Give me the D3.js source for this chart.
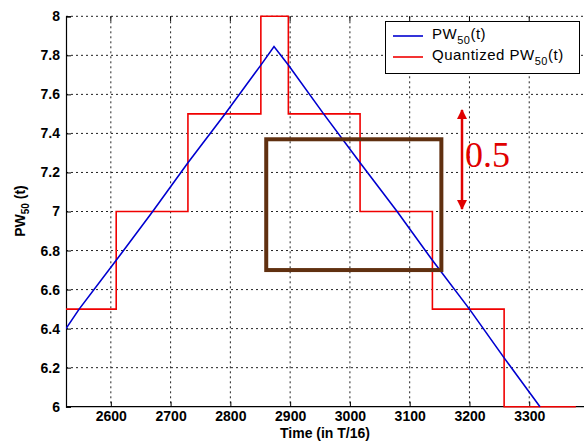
<!DOCTYPE html>
<html>
<head>
  <meta charset="UTF-8">
  <title>PW50 quantized</title>
  <script src="https://d3js.org/d3.v7.min.js"></script>
  <style>
    body { margin: 0; background: #fff; }
    svg { display: block; }
  </style>
</head>
<body>
  <svg width="584" height="443"></svg>

  <script>
    // PW50(t) (time in T/16, value)
    const pwTime  = [2525, 2547, 2609, 2670, 2729, 2791, 2851, 2873, 2897, 2956, 3017, 3079, 3138, 3200, 3258, 3318];
    const pwValue = [6.40, 6.50, 6.75, 7.00, 7.25, 7.50, 7.75, 7.845, 7.75, 7.50, 7.25, 7.00, 6.75, 6.50, 6.25, 6.00];

    // quantized steps: start of each step and its level
    const qStart = [2525, 2609, 2729, 2851, 2897, 3017, 3138, 3258];
    const qLevel = [6.5, 7.0, 7.5, 8.0, 7.5, 7.0, 6.5, 6.0];
    const qEnd = 3378;

    const xTicks = [2600, 2700, 2800, 2900, 3000, 3100, 3200, 3300];
    const yTicks = [6, 6.2, 6.4, 6.6, 6.8, 7, 7.2, 7.4, 7.6, 7.8, 8];

    // highlighted window
    const boxT = [2860, 3153];
    const boxV = [6.7, 7.37];

    const svg = d3.select("svg");
    const pLeft = 66, pTop = 16.3, pBottom = 406.7;

    const x = d3.scaleLinear().domain([2525, 3400]).range([pLeft, 589]);
    const y = d3.scaleLinear().domain([6, 8]).range([pBottom, pTop]);

    svg.append("defs").append("clipPath").attr("id", "plot")
      .append("rect")
      .attr("x", pLeft).attr("y", pTop - 2)
      .attr("width", 584 - pLeft).attr("height", pBottom - pTop + 4);

    // grid
    const grid = svg.append("g")
      .attr("stroke", "#222")
      .attr("stroke-width", 1)
      .attr("stroke-dasharray", "2,3");
    grid.selectAll("line.v")
      .data(xTicks)
      .join("line")
      .attr("class", "v")
      .attr("x1", d => x(d)).attr("x2", d => x(d))
      .attr("y1", pTop).attr("y2", pBottom);
    grid.selectAll("line.h")
      .data(yTicks.filter(d => d > 6))
      .join("line")
      .attr("class", "h")
      .attr("x1", pLeft).attr("x2", 584)
      .attr("y1", d => y(d)).attr("y2", d => y(d));

    // axes
    const xAxis = d3.axisBottom(x).tickValues(xTicks).tickSize(-5).tickPadding(4)
      .tickFormat(d3.format("d"));
    const gx = svg.append("g").attr("transform", `translate(0,${pBottom})`).call(xAxis);
    const yAxis = d3.axisLeft(y).tickValues(yTicks).tickSize(-5).tickPadding(6)
      .tickFormat(d3.format("~g"));
    const gy = svg.append("g").attr("transform", `translate(${pLeft},0)`).call(yAxis);
    [gx, gy].forEach(g => {
      g.select(".domain").attr("stroke", "#000").attr("stroke-width", 1.2);
      g.selectAll(".tick line").attr("stroke", "#000");
      g.selectAll("text")
        .attr("fill", "#000")
        .attr("font-family", "Liberation Sans, Arial, sans-serif")
        .attr("font-weight", "bold")
        .attr("font-size", 14);
    });
    gx.select(".domain").attr("d", `M${pLeft},0H584`);
    // top ticks
    svg.append("g").selectAll("line")
      .data(xTicks)
      .join("line")
      .attr("x1", d => x(d)).attr("x2", d => x(d))
      .attr("y1", pTop).attr("y2", pTop + 5)
      .attr("stroke", "#000");

    const plot = svg.append("g").attr("clip-path", "url(#plot)");

    // quantized step line
    const steps = [];
    qStart.forEach((t, i) => {
      const end = i < qStart.length - 1 ? qStart[i + 1] : qEnd;
      steps.push([t, qLevel[i]], [end, qLevel[i]]);
    });
    plot.append("path")
      .datum(steps)
      .attr("fill", "none")
      .attr("stroke", "#f00000")
      .attr("stroke-width", 1.6)
      .attr("d", d3.line().x(d => x(d[0])).y(d => y(d[1])));

    // PW50 line
    plot.append("path")
      .datum(pwTime.map((t, i) => [t, pwValue[i]]))
      .attr("fill", "none")
      .attr("stroke", "#0000d0")
      .attr("stroke-width", 1.6)
      .attr("d", d3.line().x(d => x(d[0])).y(d => y(d[1])));

    // brown box
    svg.append("rect")
      .attr("x", x(boxT[0])).attr("y", y(boxV[1]))
      .attr("width", x(boxT[1]) - x(boxT[0]))
      .attr("height", y(boxV[0]) - y(boxV[1]))
      .attr("fill", "none")
      .attr("stroke", "#603010")
      .attr("stroke-width", 4);

    // axis labels
    svg.append("text")
      .attr("x", 325).attr("y", 438)
      .attr("text-anchor", "middle")
      .attr("font-family", "Liberation Sans, Arial, sans-serif")
      .attr("font-weight", "bold")
      .attr("font-size", 14)
      .text("Time (in T/16)");

    const yl = svg.append("text")
      .attr("transform", "translate(25,211) rotate(-90)")
      .attr("text-anchor", "middle")
      .attr("font-family", "Liberation Sans, Arial, sans-serif")
      .attr("font-weight", "bold")
      .attr("font-size", 14);
    yl.append("tspan").text("PW");
    yl.append("tspan").attr("font-size", 10).attr("dy", 4).text("50");
    yl.append("tspan").attr("dy", -4).text(" (t)");

    // legend
    const lg = svg.append("g");
    lg.append("rect")
      .attr("x", 385.5).attr("y", 21.5).attr("width", 194).attr("height", 52)
      .attr("fill", "#fff").attr("stroke", "#000").attr("stroke-width", 1);
    const legendItems = [
      { name: "PW", tail: "(t)", color: "#0000d0", yy: 36 },
      { name: "Quantized PW", tail: "(t)", color: "#f00000", yy: 57 }
    ];
    legendItems.forEach(it => {
      lg.append("line")
        .attr("x1", 393).attr("x2", 423)
        .attr("y1", it.yy).attr("y2", it.yy)
        .attr("stroke", it.color).attr("stroke-width", 1.6);
      const t = lg.append("text")
        .attr("x", 432).attr("y", it.yy + 3)
        .attr("font-family", "Liberation Sans, Arial, sans-serif")
        .attr("font-size", 15)
        .attr("letter-spacing", 0.5);
      t.append("tspan").text(it.name);
      t.append("tspan").attr("font-size", 11).attr("dy", 5).text("50");
      t.append("tspan").attr("dy", -5).text(it.tail);
    });

    // 0.5 arrow
    svg.append("defs").selectAll("marker")
      .data(["up", "down"])
      .join("marker")
      .attr("id", d => "arr-" + d)
      .attr("viewBox", "0 -5 10 10")
      .attr("refX", 9)
      .attr("markerWidth", 4.5)
      .attr("markerHeight", 4)
      .attr("orient", "auto")
      .append("path")
      .attr("d", "M0,-5L10,0L0,5")
      .attr("fill", "#e00000");
    svg.append("line")
      .attr("x1", 462).attr("x2", 462)
      .attr("y1", 160).attr("y2", 110)
      .attr("stroke", "#e00000").attr("stroke-width", 2.5)
      .attr("marker-end", "url(#arr-up)");
    svg.append("line")
      .attr("x1", 462).attr("x2", 462)
      .attr("y1", 160).attr("y2", 209)
      .attr("stroke", "#e00000").attr("stroke-width", 2.5)
      .attr("marker-end", "url(#arr-down)");
    svg.append("text")
      .attr("x", 465).attr("y", 167)
      .attr("font-family", "Liberation Serif, Times New Roman, serif")
      .attr("font-size", 36)
      .attr("fill", "#e00000")
      .text("0.5");
  </script>
</body>
</html>
